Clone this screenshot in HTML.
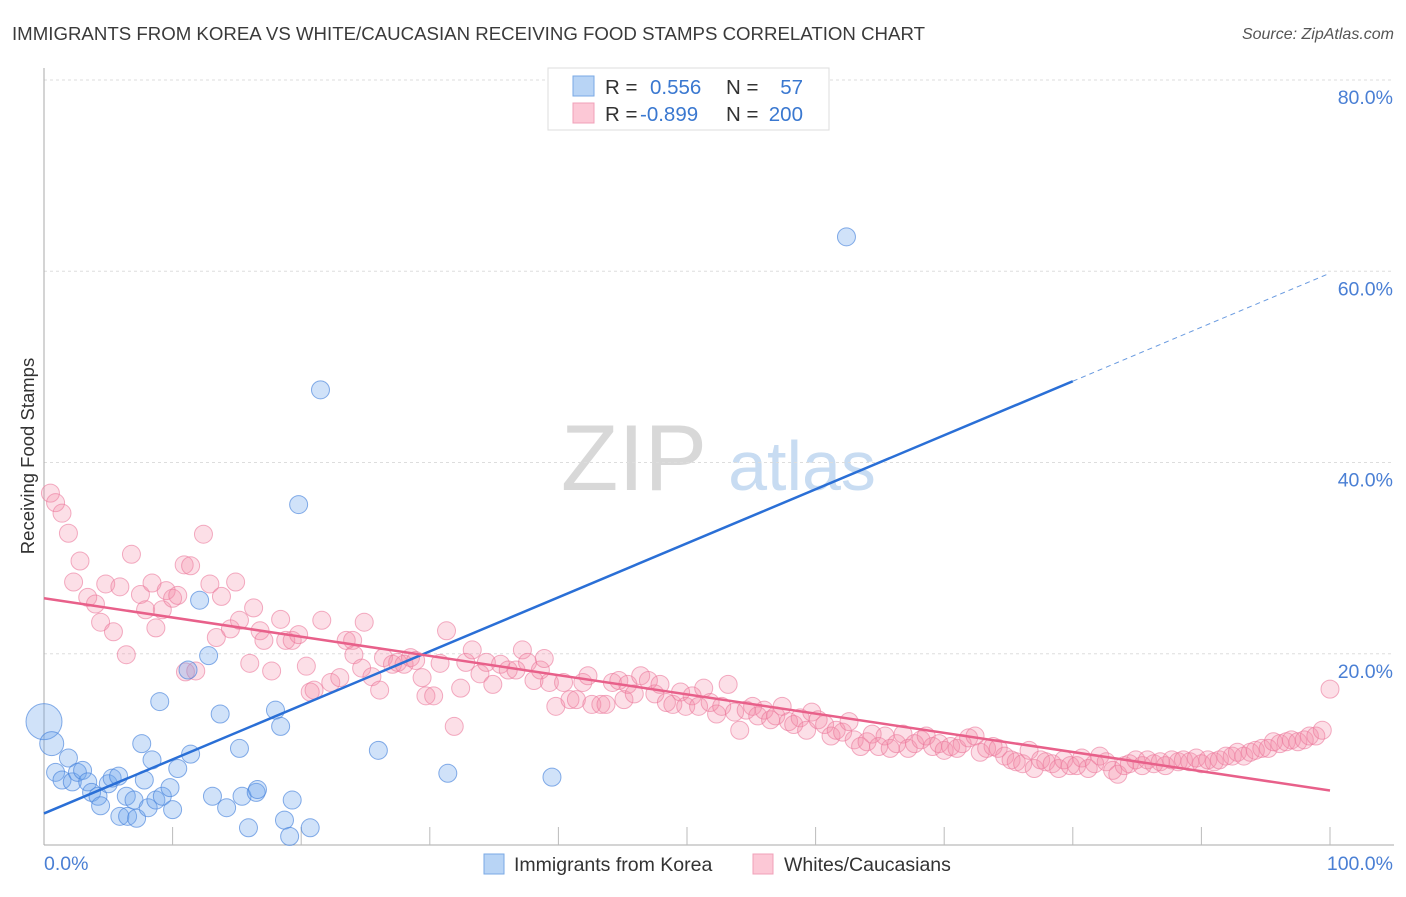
<!DOCTYPE html>
<html><head><meta charset="utf-8"><style>
body{margin:0;background:#fff;font-family:"Liberation Sans",sans-serif;}
svg text{font-family:"Liberation Sans",sans-serif;}
</style></head><body>
<svg id="chart" width="1406" height="892" xmlns="http://www.w3.org/2000/svg">
<text x="12" y="40" font-size="18" fill="#3a3a3a" textLength="913" lengthAdjust="spacingAndGlyphs">IMMIGRANTS FROM KOREA VS WHITE/CAUCASIAN RECEIVING FOOD STAMPS CORRELATION CHART</text>
<text x="1394" y="39" font-size="16" fill="#555" font-style="italic" text-anchor="end">Source: ZipAtlas.com</text>
<text transform="translate(34,456) rotate(-90)" font-size="18.5" fill="#333" text-anchor="middle">Receiving Food Stamps</text>
<g>
<text x="634" y="490" font-size="94" fill="#d8d8d8" font-family="Liberation Serif, serif" text-anchor="middle">ZIP</text>
<text x="802" y="490" font-size="70" fill="#c8dcf2" text-anchor="middle">atlas</text>
</g>
<g id="grid"></g><g id="axes"></g><g id="pts"></g><g id="lines"></g>
<g>
<rect x="548" y="68" width="281" height="62" fill="#fff" stroke="#ddd"/>
<rect x="573" y="76" width="21" height="20" fill="#b8d4f5" stroke="#7aa9e5"/>
<rect x="573" y="103" width="21" height="20" fill="#fcc8d6" stroke="#f0a0b8"/>
<text x="605" y="94" font-size="20.5" fill="#333">R =</text><text x="650" y="94" font-size="20.5" fill="#3a78d0">0.556</text>
<text x="726" y="94" font-size="20.5" fill="#333">N =</text><text x="803" y="94" font-size="20.5" fill="#3a78d0" text-anchor="end">57</text>
<text x="605" y="121" font-size="20.5" fill="#333">R =</text><text x="640" y="121" font-size="20.5" fill="#3a78d0">-0.899</text>
<text x="726" y="121" font-size="20.5" fill="#333">N =</text><text x="803" y="121" font-size="20.5" fill="#3a78d0" text-anchor="end">200</text>
</g>
<g>
<rect x="484" y="854" width="20" height="20" fill="#b8d4f5" stroke="#7aa9e5"/>
<text x="514" y="871" font-size="19.5" fill="#333">Immigrants from Korea</text>
<rect x="753" y="854" width="20" height="20" fill="#fcc8d6" stroke="#f0a0b8"/>
<text x="784" y="871" font-size="19.5" fill="#333">Whites/Caucasians</text>
</g>
</svg>
<script>
const yTicks=[20,40,60,80];
const yTickLabels=["20.0%","40.0%","60.0%","80.0%"];
const xTickVals=[10,20,30,40,50,60,70,80,90,100];
const xEndLabels=["0.0%","100.0%"];
const koreaX=[0,0.6,0.9,1.4,1.9,2.2,2.6,3.0,3.4,3.7,4.2,4.4,5.0,5.3,5.8,5.9,6.4,6.5,7.0,7.2,7.6,7.8,8.1,8.4,8.7,9.0,9.2,9.8,10.0,10.4,11.2,11.4,12.1,12.8,13.1,13.7,14.2,15.2,15.4,15.9,16.5,16.6,18.0,18.4,18.7,19.3,19.1,19.8,20.7,21.5,26.0,31.4,39.5,62.4];
const koreaY=[12.9,10.6,7.6,6.8,9.1,6.6,7.6,7.8,6.6,5.5,5.1,4.1,6.4,7.0,7.2,3.0,5.1,3.0,4.7,2.8,10.6,6.8,3.9,8.9,4.7,15.0,5.1,6.0,3.7,8.0,18.3,9.5,25.6,19.8,5.1,13.7,3.9,10.1,5.1,1.8,5.5,5.8,14.1,12.4,2.6,4.7,0.9,35.6,1.8,47.6,9.9,7.5,7.1,63.6];
const whiteX=[0.5,0.9,1.4,1.9,2.3,2.8,3.4,4.0,4.4,4.8,5.4,5.9,6.4,6.8,7.5,7.9,8.4,8.7,9.2,9.5,10.0,10.4,10.9,11.0,11.4,11.8,12.4,12.9,13.4,13.8,14.5,14.9,15.2,16.0,16.3,16.8,17.1,17.7,18.4,18.8,19.3,19.8,20.4,20.7,21.0,21.6,22.3,23.0,23.5,24.0,24.1,24.7,24.9,25.5,26.1,26.4,27.1,27.5,28.0,28.5,28.9,29.4,29.7,30.3,30.8,31.3,31.9,32.4,32.8,33.3,33.9,34.4,34.9,35.5,36.1,36.7,37.2,37.6,38.1,38.6,38.9,39.3,39.8,40.4,40.9,41.4,41.9,42.3,42.6,43.3,43.7,44.2,44.7,45.1,45.4,45.9,46.4,47.0,47.5,47.9,48.4,48.9,49.5,49.9,50.4,50.9,51.3,51.8,52.3,52.7,53.2,53.7,54.1,54.6,55.1,55.5,56.0,56.5,56.9,57.4,57.9,58.3,58.8,59.3,59.7,60.2,60.7,61.2,61.6,62.1,62.6,63.0,63.5,64.0,64.4,64.9,65.4,65.8,66.3,66.8,67.2,67.7,68.2,68.6,69.1,69.6,70.0,70.5,71.0,71.4,71.9,72.4,72.8,73.3,73.8,74.2,74.7,75.2,75.6,76.1,76.6,77.0,77.5,77.9,78.4,78.9,79.3,79.8,80.3,80.7,81.2,81.7,82.1,82.6,83.1,83.5,84.0,84.4,84.9,85.4,85.8,86.3,86.8,87.2,87.7,88.2,88.6,89.1,89.6,90.0,90.5,91.0,91.4,91.9,92.4,92.8,93.3,93.8,94.2,94.7,95.2,95.6,96.1,96.6,97.0,97.5,98.0,98.4,98.9,99.4,100];
const whiteY=[36.8,35.8,34.7,32.6,27.5,29.7,25.9,25.2,23.3,27.3,22.3,27.0,19.9,30.4,26.2,24.6,27.4,22.7,24.6,26.6,25.8,26.1,29.3,18.1,29.2,18.2,32.5,27.3,21.7,26.0,22.6,27.5,23.5,19.0,24.8,22.4,21.4,18.2,23.6,21.4,21.4,22.0,18.7,16.0,16.2,23.5,17.0,17.5,21.4,21.4,19.9,18.5,23.3,17.6,16.2,19.6,18.9,19.1,18.9,19.6,19.3,17.5,15.6,15.6,19.0,22.4,12.4,16.4,19.1,20.4,17.9,19.1,16.8,18.9,18.3,18.3,20.4,19.1,17.2,18.3,19.5,17.0,14.5,17.0,15.2,15.2,17.0,17.7,14.7,14.7,14.7,17.0,17.2,15.2,16.8,15.8,17.7,17.2,15.8,16.8,14.9,14.7,16.0,14.5,15.6,14.5,16.4,14.9,13.7,14.5,16.8,13.9,12.0,14.1,14.5,13.5,14.1,13.1,13.5,14.5,12.9,12.6,13.3,12.0,13.9,13.1,12.6,11.4,12.0,11.8,12.9,11.0,10.3,10.8,11.6,10.3,11.4,10.1,10.6,11.6,10.1,10.6,11.0,11.4,10.3,10.6,9.9,10.3,10.1,10.6,11.2,11.4,9.7,10.1,10.3,10.1,9.3,8.9,8.7,8.5,9.9,8.0,8.9,8.7,8.5,8.0,8.9,8.3,8.3,9.1,8.0,8.5,9.3,8.7,7.8,7.4,8.3,8.5,8.9,8.3,8.9,8.5,8.7,8.3,8.9,8.7,8.9,8.7,9.1,8.5,8.9,8.7,8.9,9.3,9.3,9.7,9.3,9.7,9.9,10.1,10.1,10.8,10.6,10.8,11.0,10.8,11.0,11.4,11.4,12.0,16.3];
const koreaTrend=[3.3,0.565];   // intercept, slope
const whiteTrend=[25.8,-0.201];
const koreaSolidEnd=80;

const NS="http://www.w3.org/2000/svg";
const X0=44,X1=1330,Y0=845,Y80=80;
const sx=v=>X0+(X1-X0)*v/100;
const sy=v=>Y0-(Y0-Y80)*v/80;
function mk(tag,attrs,parent){const e=document.createElementNS(NS,tag);for(const k in attrs)e.setAttribute(k,attrs[k]);document.getElementById(parent).appendChild(e);return e;}

yTicks.forEach((t,i)=>{
  const g=mk('line',{x1:X0,x2:1394,y1:sy(t),y2:sy(t),stroke:'#ddd','stroke-dasharray':'3,3'},'grid');
  
  
  const l=mk('text',{x:1393,y:sy(t)+24,'font-size':19.5,fill:'#4a7fd4','text-anchor':'end'},'axes');
  l.textContent=yTickLabels[i];
  
  
});
const ya=mk('line',{x1:X0,x2:X0,y1:68,y2:Y0,stroke:'#aaa'},'axes');


const xa=mk('line',{x1:X0,x2:1394,y1:Y0,y2:Y0,stroke:'#aaa'},'axes');


xTickVals.forEach(t=>{
  const k=mk('line',{x1:sx(t),x2:sx(t),y1:Y0-18,y2:Y0,stroke:'#bbb'},'axes');
  
  
});
const xl0=mk('text',{x:X0,y:870,'font-size':19.5,fill:'#4a7fd4'},'axes');xl0.textContent=xEndLabels[0];


const xl1=mk('text',{x:1393,y:870,'font-size':19.5,fill:'#4a7fd4','text-anchor':'end'},'axes');xl1.textContent=xEndLabels[1];



whiteX.forEach((x,i)=>{
  const c=mk('circle',{cx:sx(x),cy:sy(whiteY[i]),r:9,fill:'rgba(245,140,170,0.28)',stroke:'rgba(235,120,155,0.6)','stroke-width':1},'pts');
  
  
});
koreaX.forEach((x,i)=>{
  const r=i===0?18:(i===1?12:9);
  const c=mk('circle',{cx:sx(x),cy:sy(koreaY[i]),r:r,fill:'rgba(110,165,235,0.32)',stroke:'rgba(70,130,220,0.65)','stroke-width':1},'pts');
  
  
});
const kt=v=>koreaTrend[0]+koreaTrend[1]*v, wt=v=>whiteTrend[0]+whiteTrend[1]*v;
const l1=mk('line',{x1:sx(0),y1:sy(kt(0)),x2:sx(koreaSolidEnd),y2:sy(kt(koreaSolidEnd)),stroke:'#2a6fd6','stroke-width':2.5},'lines');


const l2=mk('line',{x1:sx(koreaSolidEnd),y1:sy(kt(koreaSolidEnd)),x2:sx(100),y2:sy(kt(100)),stroke:'#6a9be0','stroke-width':1,'stroke-dasharray':'5,4'},'lines');


const l3=mk('line',{x1:sx(0),y1:sy(wt(0)),x2:sx(100),y2:sy(wt(100)),stroke:'#e8608a','stroke-width':2.5},'lines');


</script>
</body></html>
